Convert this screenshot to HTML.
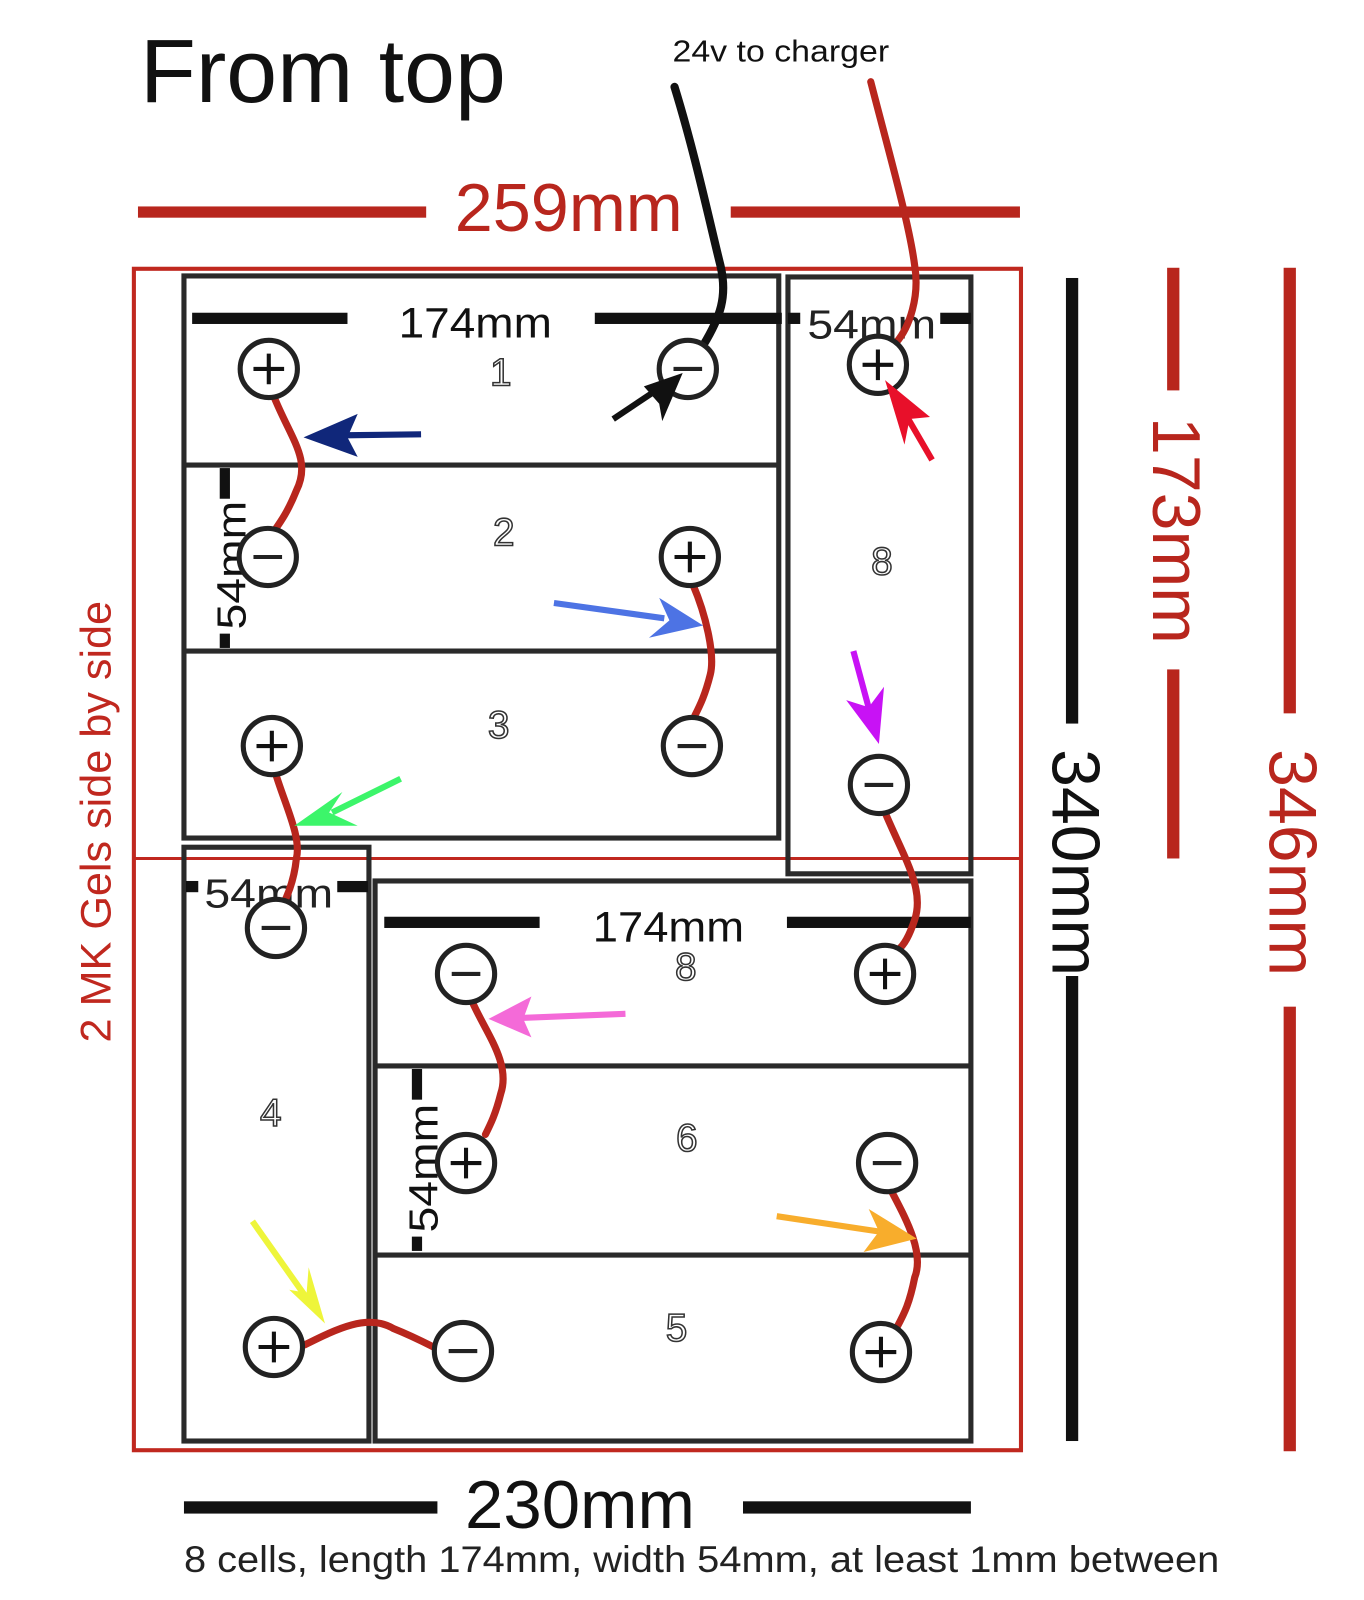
<!DOCTYPE html>
<html><head><meta charset="utf-8"><style>
html,body{margin:0;padding:0;background:#fff;width:1364px;height:1600px;overflow:hidden}
svg{display:block}
text{font-family:"Liberation Sans",sans-serif}
</style></head><body>
<svg width="1364" height="1600" viewBox="0 0 1364 1600" xmlns="http://www.w3.org/2000/svg">
<defs>
<g id="tp"><circle r="28" fill="#fff" stroke="#222" stroke-width="5"/><path d="M-15 0H15M0 -15V15" stroke="#111" stroke-width="4"/></g>
<g id="tm"><circle r="28" fill="#fff" stroke="#222" stroke-width="5"/><path d="M-14 0H14" stroke="#222" stroke-width="4"/></g>
</defs>
<g transform="scale(1.022)">
<text x="137" y="100" font-size="88" fill="#111" textLength="358" lengthAdjust="spacingAndGlyphs">From top</text>
<text x="658" y="60" font-size="30" fill="#111" textLength="212" lengthAdjust="spacingAndGlyphs">24v to charger</text>
<rect x="135" y="202" width="282" height="11" fill="#b8261d"/>
<rect x="715" y="202" width="283" height="11" fill="#b8261d"/>
<text x="445" y="226" font-size="66" fill="#b8261d" textLength="223" lengthAdjust="spacingAndGlyphs">259mm</text>
<rect x="131" y="263" width="868" height="1156" fill="none" stroke="#c0281f" stroke-width="4"/>
<line x1="131" y1="840" x2="999" y2="840" stroke="#c0281f" stroke-width="3"/>
<g fill="none" stroke="#2a2a2a" stroke-width="5">
<rect x="180" y="270" width="582" height="550"/>
<line x1="180" y1="455" x2="762" y2="455"/>
<line x1="180" y1="637" x2="762" y2="637"/>
<rect x="771" y="271" width="179" height="584"/>
<rect x="180" y="829" width="181" height="581"/>
<rect x="367" y="862" width="583" height="548"/>
<line x1="367" y1="1043" x2="950" y2="1043"/>
<line x1="367" y1="1228" x2="950" y2="1228"/>
</g>
<rect x="188" y="306" width="152" height="11" fill="#111"/>
<rect x="582" y="306" width="183" height="11" fill="#111"/>
<text x="390" y="330" font-size="42" fill="#111" textLength="150" lengthAdjust="spacingAndGlyphs">174mm</text>
<rect x="771" y="306" width="12" height="11" fill="#111"/>
<rect x="920" y="306" width="30" height="11" fill="#111"/>
<text x="790" y="331" font-size="40" fill="#222" textLength="126" lengthAdjust="spacingAndGlyphs">54mm</text>
<rect x="376" y="897" width="152" height="11" fill="#111"/>
<rect x="770" y="897" width="180" height="11" fill="#111"/>
<text x="580" y="921" font-size="42" fill="#111" textLength="148" lengthAdjust="spacingAndGlyphs">174mm</text>
<rect x="182" y="862" width="12" height="11" fill="#111"/>
<rect x="330" y="862" width="30" height="11" fill="#111"/>
<text x="200" y="888" font-size="40" fill="#222" textLength="126" lengthAdjust="spacingAndGlyphs">54mm</text>
<rect x="215" y="458" width="10" height="30" fill="#111"/>
<rect x="215" y="620" width="10" height="14" fill="#111"/>
<text transform="translate(240,616) rotate(-90)" font-size="40" fill="#111" textLength="126" lengthAdjust="spacingAndGlyphs">54mm</text>
<rect x="403" y="1046" width="10" height="30" fill="#111"/>
<rect x="403" y="1210" width="10" height="14" fill="#111"/>
<text transform="translate(428,1206) rotate(-90)" font-size="40" fill="#111" textLength="126" lengthAdjust="spacingAndGlyphs">54mm</text>
<g font-size="38" fill="#fff" stroke="#333" stroke-width="1.5" text-anchor="middle">
<text x="490" y="377">1</text><text x="493" y="534">2</text><text x="488" y="722">3</text>
<text x="863" y="562">8</text><text x="671" y="959">8</text><text x="265" y="1102">4</text>
<text x="672" y="1126">6</text><text x="662" y="1312">5</text>
</g>
<g fill="none" stroke="#b8261d" stroke-width="7" stroke-linecap="round">
<path d="M268 388 C285 430 305 450 290 480 C282 500 275 510 268 520"/>
<path d="M678 572 C690 600 700 640 695 660 C690 680 685 690 680 700"/>
<path d="M270 758 C280 790 295 820 290 840 C288 860 282 875 277 885"/>
<path d="M866 795 C885 840 905 870 895 900 C890 915 885 925 878 930"/>
<path d="M462 980 C475 1010 500 1040 490 1070 C485 1090 480 1100 475 1110"/>
<path d="M872 1165 C885 1190 905 1225 895 1250 C890 1275 885 1285 878 1298"/>
<path d="M298 1316 C330 1300 360 1285 385 1300 C405 1308 418 1315 428 1320"/>
<path d="M852 80 C870 150 890 220 895 260 C900 290 890 320 877 335"/>
</g>
<path d="M660 85 C680 150 695 220 705 260 C712 290 705 310 688 338" fill="none" stroke="#111" stroke-width="8" stroke-linecap="round"/>
<use href="#tp" x="263" y="361"/><use href="#tm" x="673" y="361"/>
<use href="#tm" x="262" y="545"/><use href="#tp" x="675" y="545"/>
<use href="#tp" x="266" y="730"/><use href="#tm" x="677" y="730"/>
<use href="#tp" x="859" y="357"/><use href="#tm" x="860" y="768"/>
<use href="#tm" x="270" y="908"/><use href="#tm" x="456" y="953"/>
<use href="#tp" x="866" y="953"/><use href="#tp" x="456" y="1138"/>
<use href="#tm" x="868" y="1138"/><use href="#tp" x="268" y="1318"/>
<use href="#tm" x="453" y="1322"/><use href="#tp" x="862" y="1323"/>
<g stroke-width="6">
<line x1="412" y1="425" x2="330" y2="426" stroke="#10277a"/><polygon points="297,428 350,405 340,428 350,447" fill="#10277a"/>
<line x1="600" y1="410" x2="645" y2="380" stroke="#111"/><polygon points="668,365 630,378 645,395 648,412" fill="#111"/>
<line x1="912" y1="450" x2="880" y2="395" stroke="#e8102a"/><polygon points="866,372 910,408 890,410 885,435" fill="#e8102a"/>
<line x1="542" y1="590" x2="650" y2="605" stroke="#4d73e4"/><polygon points="688,612 645,585 655,607 635,624" fill="#4d73e4"/>
<line x1="392" y1="762" x2="325" y2="795" stroke="#3cf56a"/><polygon points="288,808 335,775 322,795 350,808" fill="#3cf56a"/>
<line x1="835" y1="637" x2="852" y2="700" stroke="#c812f5"/><polygon points="860,728 828,685 850,692 865,672" fill="#c812f5"/>
<line x1="612" y1="992" x2="510" y2="996" stroke="#f46ad8"/><polygon points="478,997 520,975 512,997 520,1015" fill="#f46ad8"/>
<line x1="247" y1="1195" x2="300" y2="1270" stroke="#eef53a"/><polygon points="318,1295 283,1262 300,1265 302,1240" fill="#eef53a"/>
<line x1="760" y1="1190" x2="860" y2="1205" stroke="#f8ad2c"/><polygon points="897,1212 850,1183 860,1205 845,1225" fill="#f8ad2c"/>
</g>
<rect x="1043" y="272" width="12" height="436" fill="#111"/>
<rect x="1043" y="955" width="12" height="455" fill="#111"/>
<text transform="translate(1030,733) rotate(90)" font-size="66" fill="#111" textLength="222" lengthAdjust="spacingAndGlyphs">340mm</text>
<rect x="1142" y="262" width="12" height="120" fill="#b8261d"/>
<rect x="1142" y="655" width="12" height="185" fill="#b8261d"/>
<text transform="translate(1128,408) rotate(90)" font-size="66" fill="#b8261d" textLength="222" lengthAdjust="spacingAndGlyphs">173mm</text>
<rect x="1256" y="262" width="12" height="436" fill="#b8261d"/>
<rect x="1256" y="985" width="12" height="435" fill="#b8261d"/>
<text transform="translate(1242,733) rotate(90)" font-size="66" fill="#b8261d" textLength="222" lengthAdjust="spacingAndGlyphs">346mm</text>
<text transform="translate(108,1020) rotate(-90)" font-size="42" fill="#c0281f" textLength="432" lengthAdjust="spacingAndGlyphs">2 MK Gels side by side</text>
<rect x="180" y="1469" width="248" height="12" fill="#111"/>
<rect x="727" y="1469" width="223" height="12" fill="#111"/>
<text x="455" y="1495" font-size="66" fill="#111" textLength="225" lengthAdjust="spacingAndGlyphs">230mm</text>
<text x="180" y="1538" font-size="36" fill="#222" textLength="1013" lengthAdjust="spacingAndGlyphs">8 cells, length 174mm, width 54mm, at least 1mm between</text>
</g>
</svg>
</body></html>
